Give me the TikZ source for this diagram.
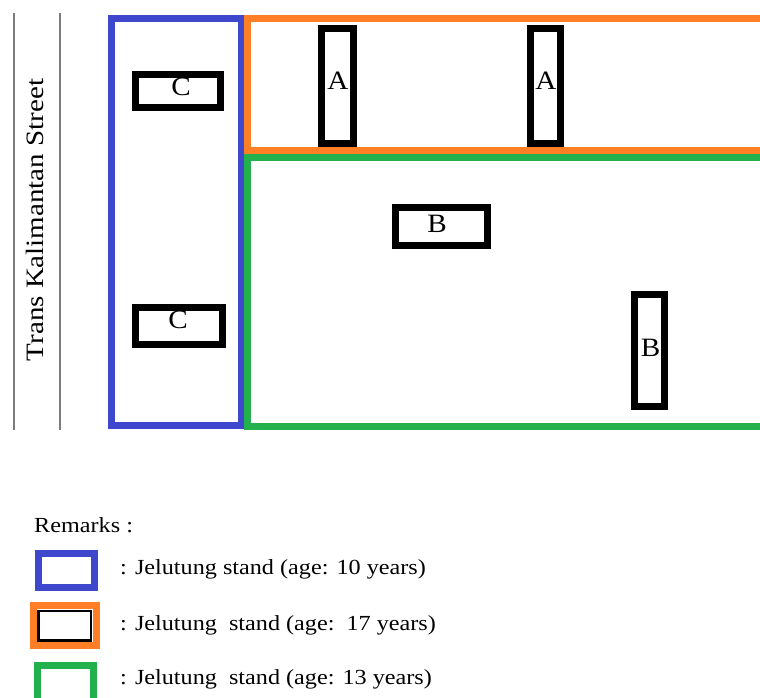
\documentclass[tikz,border=0pt]{standalone}
\usepackage{fontspec}
\setmainfont{Liberation Serif}
\definecolor{standblue}{RGB}{63,72,204}
\definecolor{standorange}{RGB}{255,127,39}
\definecolor{standgreen}{RGB}{34,177,76}
\definecolor{streetgray}{RGB}{125,125,125}
\tikzset{
  zone/.style={line width=7pt},
  standbox/.style={draw=black, line width=7pt, inner sep=0pt},
  standlabel/.style={anchor=base, inner sep=0pt, xscale=1.1,
    font=\fontsize{26.5pt}{28pt}\selectfont},
  legendtext/.style={anchor=base west, inner sep=0pt, xscale=1.125,
    font=\fontsize{21.5pt}{24pt}\selectfont},
  legendbox/.style={line width=7pt, inner sep=0pt, minimum width=56pt, minimum height=34pt},
  streetline/.style={draw=streetgray, line width=1.4pt}
}
\begin{document}
\begin{tikzpicture}[x=1pt,y=-1pt]
\useasboundingbox (0,0) rectangle (760,697);
\clip (0,0) rectangle (760,697);

% street edges and name
\coordinate (sl1) at (14,13);  \coordinate (sl2) at (14,430);
\coordinate (sr1) at (60,13);  \coordinate (sr2) at (60,430);
\draw[streetline] (sl1) -- (sl2);
\draw[streetline] (sr1) -- (sr2);
\node[rotate=90, xscale=1.16, anchor=base, inner sep=0pt,
      font=\fontsize{25pt}{27pt}\selectfont] (street) at (43.3,220) {Trans Kalimantan Street};

% stands by age
\draw[zone, draw=standblue] (111.7,18) rectangle (241,425);
\draw[zone, draw=standorange] (247,18) rectangle (800,150.5);
\draw[zone, draw=standgreen] (247,157.5) rectangle (800,426.5);

% plots
\node[standbox, minimum width=85pt, minimum height=33pt] (c1) at (178,90.5) {};
\node[standbox, minimum width=87pt, minimum height=37pt] (c2) at (179,325.5) {};
\node[standbox, minimum width=32.5pt, minimum height=115pt] (a1) at (337.3,85.5) {};
\node[standbox, minimum width=29.5pt, minimum height=115pt] (a2) at (545.7,85.5) {};
\node[standbox, minimum width=92.5pt, minimum height=37.5pt] (b1) at (441.7,226.7) {};
\node[standbox, minimum width=30.5pt, minimum height=112pt] (b2) at (649.7,350.5) {};

\node[standlabel] (c1l) at (181,95.7) {C};
\node[standlabel] (c2l) at (178,328.3) {C};
\node[standlabel] (a1l) at (338,89.3) {A};
\node[standlabel] (a2l) at (546,89.3) {A};
\node[standlabel] (b1l) at (437,232.3) {B};
\node[standlabel] (b2l) at (650.7,356) {B};

% legend
\node[legendtext] (remarks) at (34,532.3) {Remarks :};
\node[legendbox, draw=standblue] (kblue) at (66,570) {};
\node[legendbox, draw=standorange, minimum width=62.7pt, minimum height=39.7pt] (korange) at (64.7,625.8) {};
\node[draw=black, line width=2.5pt, inner sep=0pt, minimum width=52.5pt, minimum height=29.5pt] (kinner) at (64.7,625.8) {};
\node[legendbox, draw=standgreen, minimum width=55.5pt, minimum height=38pt] (kgreen) at (65.3,684) {};
\node[legendtext] (tblue) at (120,574) {: Jelutung stand (age: 10 years)};
\node[legendtext] (torange) at (120,630) {: Jelutung\ \ stand (age:\ \ 17 years)};
\node[legendtext] (tgreen) at (120,684) {: Jelutung\ \ stand (age: 13 years)};
\end{tikzpicture}
\end{document}
